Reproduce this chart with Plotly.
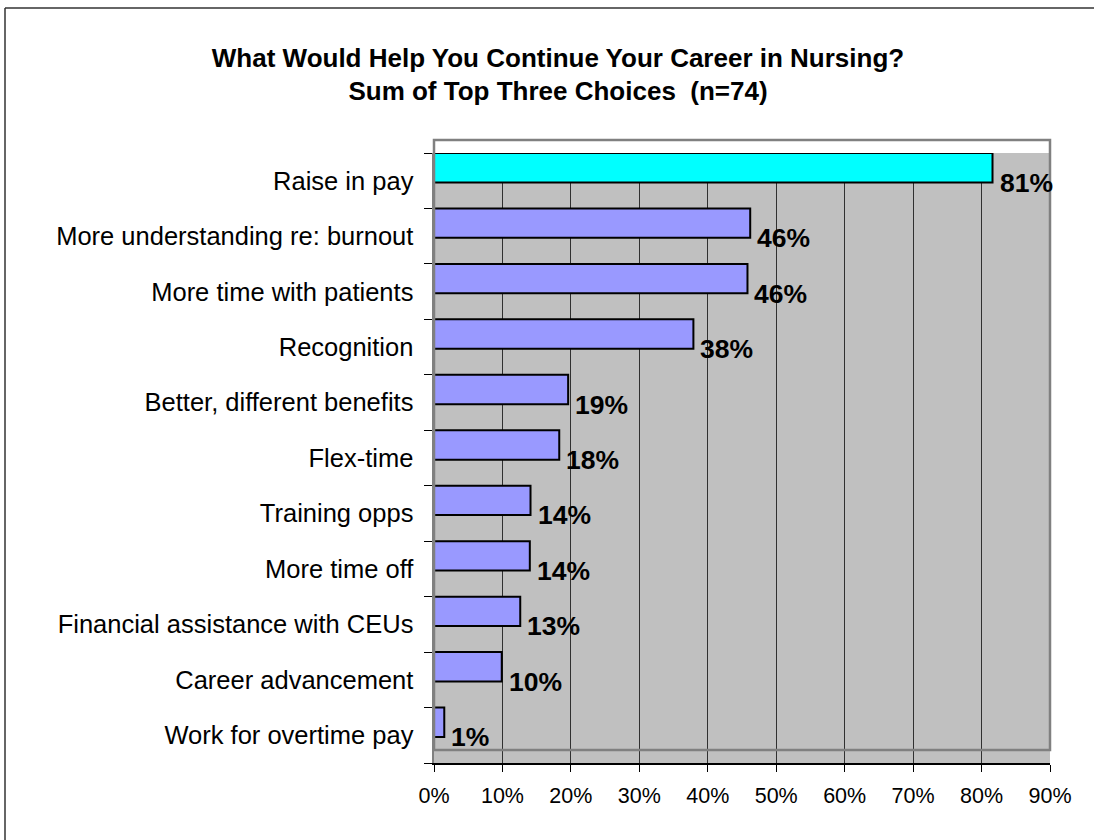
import plotly.graph_objects as go

categories = [
    "Raise in pay",
    "More understanding re: burnout",
    "More time with patients",
    "Recognition",
    "Better, different benefits",
    "Flex-time",
    "Training opps",
    "More time off",
    "Financial assistance with CEUs",
    "Career advancement",
    "Work for overtime pay",
]
values = [81.6, 46.2, 45.8, 37.9, 19.6, 18.3, 14.1, 14.0, 12.6, 9.9, 1.5]
value_labels = ["81%", "46%", "46%", "38%", "19%", "18%", "14%", "14%", "13%", "10%", "1%"]
bar_colors = ["#00FFFF"] + ["#9999FF"] * 10
x_ticks = [0, 10, 20, 30, 40, 50, 60, 70, 80, 90]
x_tick_labels = [f"{v}%" for v in x_ticks]

W, H = 1094, 840
ML, MR, MT, MB = 434, 44, 153, 77
PW, PH = W - ML - MR, H - MT - MB

n = len(categories)
band_pos = list(range(n))
bar_width = 0.53
bar_centers = [i + bar_width / 2 for i in band_pos]
label_centers = [i + 0.5 for i in band_pos]

FONT = "Liberation Sans, Arial, sans-serif"

fig = go.Figure()
fig.add_trace(go.Bar(
    x=values, y=bar_centers, orientation="h", width=bar_width,
    marker=dict(color=bar_colors, line=dict(color="black", width=2)),
    hoverinfo="skip", showlegend=False,
))

for v, yc, t in zip(values, label_centers, value_labels):
    fig.add_annotation(x=v, y=yc, xref="x", yref="y", text=f"<b>{t}</b>",
                       showarrow=False, xanchor="left", yanchor="middle", xshift=5, yshift=-2,
                       font=dict(family=FONT, size=26.5, color="black"))

def px_x(p):
    return (p - ML) / PW

def px_y(p):
    return (H - MB - p) / PH

# plot area border (offset, as in the original)
fig.add_shape(type="rect", xref="paper", yref="paper",
              x0=0, x1=1, y0=px_y(750), y1=px_y(140),
              line=dict(color="#808080", width=2.5), layer="above")
# outer chart frame (only left and top edges are visible in the original)
fig.add_shape(type="line", xref="paper", yref="paper",
              x0=px_x(5), x1=px_x(5), y0=px_y(H + 20), y1=px_y(8),
              line=dict(color="#333333", width=1.5))
fig.add_shape(type="line", xref="paper", yref="paper",
              x0=px_x(5), x1=px_x(W + 20), y0=px_y(8), y1=px_y(8),
              line=dict(color="#333333", width=1.5))

fig.update_layout(
    width=W, height=H,
    margin=dict(l=ML, r=MR, t=MT, b=MB, pad=0),
    paper_bgcolor="white", plot_bgcolor="#C0C0C0",
    font=dict(family=FONT, color="black"),
    title=dict(text="<b>What Would Help You Continue Your Career in Nursing?<br>Sum of Top Three Choices  (n=74)</b>",
               x=558 / W, xanchor="center", xref="container",
               y=1 - 66.5 / H, yanchor="middle", yref="container",
               font=dict(family=FONT, size=26, color="black")),
    bargap=0,
    xaxis=dict(range=[0, 90], tickvals=x_ticks, ticktext=x_tick_labels,
               showgrid=True, gridcolor="#303030", gridwidth=1,
               showline=True, linecolor="black", linewidth=1.5,
               ticks="outside", ticklen=7, tickcolor="black", tickwidth=1,
               tickfont=dict(family=FONT, size=21.5, color="black"),
               ticklabelstandoff=6, zeroline=False, fixedrange=True),
    yaxis=dict(range=[n, 0], tickvals=label_centers, ticktext=categories,
               showgrid=False, zeroline=False,
               showline=True, linecolor="#808080", linewidth=2.5,
               ticks="", ticklabelstandoff=13,
               tickfont=dict(family=FONT, size=25.5, color="black"),
               minor=dict(tickvals=band_pos + [n], ticks="outside", ticklen=8,
                          tickcolor="black", tickwidth=1, showgrid=False),
               fixedrange=True),
)

fig.write_html("out.html", config={"displayModeBar": False, "staticPlot": True},
               post_script="document.body.style.margin='0';document.body.style.overflow='hidden';")
